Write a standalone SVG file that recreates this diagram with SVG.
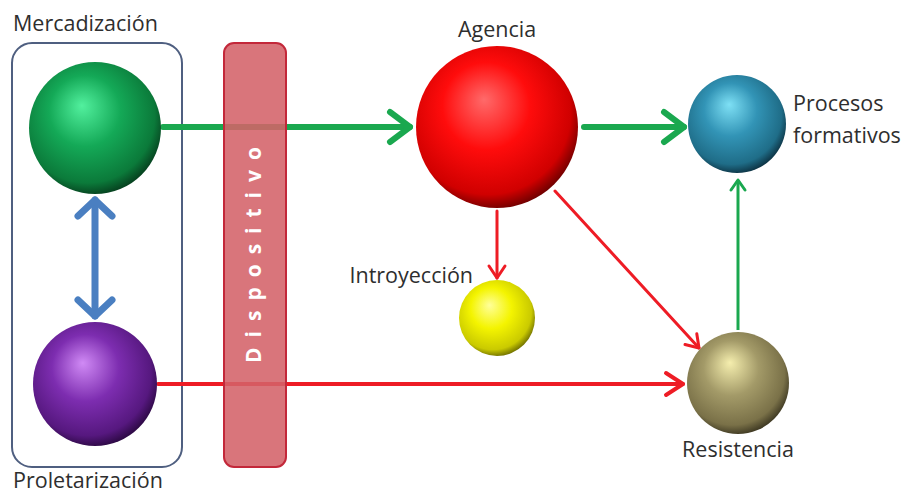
<svg xmlns="http://www.w3.org/2000/svg" width="912" height="493" viewBox="0 0 912 493">
<defs>
<style>
.lbl{font-family:"Open Sans","Liberation Sans",sans-serif;font-size:21.5px;fill:#2e2e2e}
.g{stroke:#1aa84f;stroke-width:6;fill:none;stroke-linecap:round}
.r{stroke:#ee1c25;fill:none;stroke-linecap:round}
.b{stroke:#4a7fc1;stroke-width:7;fill:none;stroke-linecap:round}
</style>
<marker id="mg" markerUnits="userSpaceOnUse" markerWidth="40" markerHeight="40" viewBox="-30 -20 40 40" refX="0" refY="0" orient="auto" overflow="visible">
<path d="M-20,-15 L0,0 L-20,15" fill="none" stroke="#1aa84f" stroke-width="6" stroke-linecap="round" stroke-linejoin="round"/>
</marker>
<marker id="mgs" markerUnits="userSpaceOnUse" markerWidth="30" markerHeight="30" viewBox="-20 -15 30 30" refX="0" refY="0" orient="auto" overflow="visible">
<path d="M-10,-7 L0,0 L-10,7" fill="none" stroke="#1aa84f" stroke-width="3" stroke-linecap="round" stroke-linejoin="round"/>
</marker>
<marker id="mr" markerUnits="userSpaceOnUse" markerWidth="30" markerHeight="30" viewBox="-20 -15 30 30" refX="0" refY="0" orient="auto" overflow="visible">
<path d="M-17,-11 L0,0 L-17,11" fill="none" stroke="#ee1c25" stroke-width="4" stroke-linecap="round" stroke-linejoin="round"/>
</marker>
<marker id="mrs" markerUnits="userSpaceOnUse" markerWidth="30" markerHeight="30" viewBox="-20 -15 30 30" refX="0" refY="0" orient="auto" overflow="visible">
<path d="M-12,-8 L0,0 L-12,8" fill="none" stroke="#ee1c25" stroke-width="3" stroke-linecap="round" stroke-linejoin="round"/>
</marker>
<marker id="mb" markerUnits="userSpaceOnUse" markerWidth="40" markerHeight="40" viewBox="-30 -20 40 40" refX="0" refY="0" orient="auto-start-reverse" overflow="visible">
<path d="M-16,-17 L0,0 L-16,17" fill="none" stroke="#4a7fc1" stroke-width="7" stroke-linecap="round" stroke-linejoin="round"/>
</marker>
<radialGradient id="sg" cx="0.45" cy="0.42" r="0.6" fx="0.4" fy="0.33">
<stop offset="0" stop-color="#52f09e"/><stop offset="0.45" stop-color="#14a957"/><stop offset="0.85" stop-color="#0b7a3a"/><stop offset="1" stop-color="#063d1d"/>
</radialGradient>
<radialGradient id="sp" cx="0.45" cy="0.42" r="0.6" fx="0.4" fy="0.33">
<stop offset="0" stop-color="#d08af5"/><stop offset="0.45" stop-color="#7d2db0"/><stop offset="0.85" stop-color="#56187f"/><stop offset="1" stop-color="#2a0840"/>
</radialGradient>
<radialGradient id="sr" cx="0.45" cy="0.42" r="0.6" fx="0.42" fy="0.33">
<stop offset="0" stop-color="#ff6a6a"/><stop offset="0.45" stop-color="#ff0c0c"/><stop offset="0.85" stop-color="#d00000"/><stop offset="1" stop-color="#6a0000"/>
</radialGradient>
<radialGradient id="sb" cx="0.45" cy="0.42" r="0.6" fx="0.42" fy="0.3">
<stop offset="0" stop-color="#7ee0f5"/><stop offset="0.45" stop-color="#3294b6"/><stop offset="0.85" stop-color="#1f6d88"/><stop offset="1" stop-color="#0c3040"/>
</radialGradient>
<radialGradient id="sy" cx="0.45" cy="0.42" r="0.6" fx="0.4" fy="0.33">
<stop offset="0" stop-color="#ffff9a"/><stop offset="0.45" stop-color="#f4f400"/><stop offset="0.85" stop-color="#caca00"/><stop offset="1" stop-color="#6a6a00"/>
</radialGradient>
<radialGradient id="so" cx="0.45" cy="0.42" r="0.6" fx="0.42" fy="0.3">
<stop offset="0" stop-color="#f5eeae"/><stop offset="0.45" stop-color="#a39a68"/><stop offset="0.85" stop-color="#7a7148"/><stop offset="1" stop-color="#3a3520"/>
</radialGradient>
</defs>
<rect width="912" height="493" fill="#ffffff"/>

<g id="group-box">
<rect x="12" y="43" width="170" height="424" rx="20" fill="none" stroke="#4f5f80" stroke-width="2"/>
</g>

<g id="connectors">
<line class="g" x1="163" y1="127" x2="410" y2="127" marker-end="url(#mg)"/>
<line class="g" x1="584" y1="127" x2="684" y2="127" marker-end="url(#mg)"/>
<line stroke="#1aa84f" stroke-width="3" x1="738" y1="330" x2="738" y2="180" marker-end="url(#mgs)"/>
<line class="r" stroke-width="4" x1="158" y1="384" x2="683" y2="384" marker-end="url(#mr)"/>
<line class="r" stroke-width="3" x1="555" y1="191" x2="699" y2="348" marker-end="url(#mrs)"/>
<line class="r" stroke-width="3" x1="497" y1="211" x2="497" y2="278" marker-end="url(#mrs)"/>
<line class="b" x1="95" y1="200" x2="95" y2="316" marker-start="url(#mb)" marker-end="url(#mb)"/>
</g>

<g id="dispositivo">
<rect x="224" y="43" width="62" height="424" rx="10" fill="#d46269" fill-opacity="0.88" stroke="#c3283a" stroke-width="2"/>
<text transform="translate(261,255) rotate(-90)" text-anchor="middle" font-family="'Open Sans','Liberation Sans',sans-serif" font-weight="bold" font-size="21" fill="#ffffff" textLength="216" lengthAdjust="spacing">Dispositivo</text>
</g>

<g id="mercadizacion">
<circle cx="95" cy="128" r="66" fill="url(#sg)"/>
<text class="lbl" x="13" y="31">Mercadización</text>
</g>

<g id="proletarizacion">
<circle cx="95" cy="384" r="62" fill="url(#sp)"/>
<text class="lbl" x="13" y="488">Proletarización</text>
</g>

<g id="agencia">
<circle cx="497" cy="127" r="81" fill="url(#sr)"/>
<text class="lbl" x="497" y="37" text-anchor="middle">Agencia</text>
</g>

<g id="procesos">
<circle cx="737" cy="124" r="49" fill="url(#sb)"/>
<text class="lbl" x="793" y="111">Procesos</text>
<text class="lbl" x="793" y="143">formativos</text>
</g>

<g id="introyeccion">
<circle cx="497" cy="318" r="38" fill="url(#sy)"/>
<text class="lbl" x="473" y="283" text-anchor="end">Introyección</text>
</g>

<g id="resistencia">
<circle cx="738" cy="383" r="51" fill="url(#so)"/>
<text class="lbl" x="738" y="457" text-anchor="middle">Resistencia</text>
</g>
</svg>
